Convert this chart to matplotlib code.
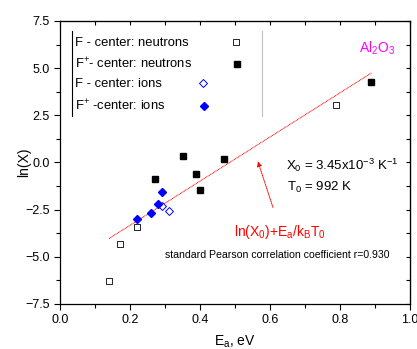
import numpy as np
import matplotlib.pyplot as plt
from matplotlib.ticker import MultipleLocator

plt.rcParams['font.family'] = ['Liberation Sans', 'DejaVu Sans']
plt.rcParams['mathtext.fontset'] = 'custom'
plt.rcParams['mathtext.rm'] = 'Liberation Sans'
plt.rcParams['mathtext.it'] = 'Liberation Sans'

# F - center: neutrons (open squares)
ea_fn = [0.14, 0.17, 0.22, 0.79]
lnx_fn = [-6.28, -4.32, -3.40, 3.05]
# F+ - center: neutrons (filled squares)
ea_fpn = [0.27, 0.35, 0.39, 0.40, 0.47, 0.89]
lnx_fpn = [-0.89, 0.35, -0.62, -1.46, 0.19, 4.28]
# F - center: ions (open diamonds)
ea_fi = [0.29, 0.31]
lnx_fi = [-2.30, -2.59]
# F+ - center: ions (filled diamonds)
ea_fpi = [0.22, 0.26, 0.28, 0.29]
lnx_fpi = [-2.98, -2.66, -2.21, -1.56]

# fit parameters
X0 = 3.45e-3
T0 = 992.0
kB = 8.617e-5
fit_range = [0.14, 0.89]

fig = plt.figure(figsize=(4.17, 3.49), dpi=100)
ax = fig.add_axes([0.144, 0.129, 0.839, 0.811])

xf = np.array(fit_range)
ax.plot(xf, np.log(X0) + xf / (kB * T0), color='red', lw=0.7, ls=(0, (1, 0.6)))

ax.plot(ea_fn, lnx_fn, 's', ms=3.8, mfc='white', mec='black', mew=0.6, ls='none')
ax.plot(ea_fpn, lnx_fpn, 's', ms=4.5, mfc='black', mec='black', ls='none')
ax.plot(ea_fi, lnx_fi, 'D', ms=4.2, mfc='white', mec='blue', mew=0.7, ls='none')
ax.plot(ea_fpi, lnx_fpi, 'D', ms=4.3, mfc='blue', mec='blue', ls='none')

# legend drawn by hand like the original
ax.plot([0.034, 0.034], [6.97, 2.47], color='black', lw=0.8)
ax.plot([0.577, 0.577], [6.97, 2.47], color='#c0c0c0', lw=0.8)
leg_y = [6.33, 5.22, 4.16, 3.0]
leg_txt = ["F - center: neutrons", "F$^{+}$- center: neutrons",
           "F - center: ions", "F$^{+}$ -center: ions"]
for t, y in zip(leg_txt, leg_y):
    ax.text(0.043, y, t, fontsize=9.4, va='center', ha='left')
ax.plot(0.503, 6.39, 's', ms=3.8, mfc='white', mec='black', mew=0.6)
ax.plot(0.506, 5.22, 's', ms=4.5, mfc='black', mec='black')
ax.plot(0.409, 4.21, 'D', ms=4.2, mfc='white', mec='blue', mew=0.7)
ax.plot(0.411, 3.0, 'D', ms=4.3, mfc='blue', mec='blue')

ax.text(0.906, 6.07, "Al$_2$O$_3$", color='magenta', fontsize=10, ha='center', va='center')
ax.text(0.646, -0.13, "X$_0$ = 3.45x10$^{-3}$ K$^{-1}$", fontsize=9.5, va='center')
ax.text(0.648, -1.35, "T$_0$ = 992 K", fontsize=9.5, va='center')
ax.text(0.497, -3.68, "ln(X$_0$)+E$_a$/k$_B$T$_0$", color='red', fontsize=10, va='center')
ax.text(0.30, -4.9, "standard Pearson correlation coefficient r=0.930", fontsize=7.6, va='center')
ax.annotate("", xy=(0.563, 0.19), xytext=(0.611, -2.52),
            arrowprops=dict(arrowstyle='-|>', color='red', lw=0.7, ls=(0, (1, 1)),
                            mutation_scale=7))

ax.set_xlim(0, 1.0)
ax.set_ylim(-7.5, 7.5)
ax.xaxis.set_major_locator(MultipleLocator(0.2))
ax.xaxis.set_minor_locator(MultipleLocator(0.1))
ax.yaxis.set_major_locator(MultipleLocator(2.5))
ax.yaxis.set_minor_locator(MultipleLocator(1.25))
ax.tick_params(which='both', direction='out', labelsize=9, width=0.8, top=False, right=False)
ax.tick_params(which='major', length=4)
ax.tick_params(which='minor', length=3)
ax2 = ax.secondary_xaxis('top')
ax2.xaxis.set_major_locator(MultipleLocator(0.1))
ax2.tick_params(direction='in', length=3, labeltop=False)
ax3 = ax.secondary_yaxis('right')
ax3.yaxis.set_major_locator(MultipleLocator(1.25))
ax3.tick_params(direction='in', length=3, labelright=False)
for s in ax.spines.values():
    s.set_linewidth(0.9)

ax.set_xlabel("E$_a$, eV", fontsize=10, labelpad=5)
ax.set_ylabel("ln(X)", fontsize=10, labelpad=-4)

fig.savefig("out.png", dpi=100)
